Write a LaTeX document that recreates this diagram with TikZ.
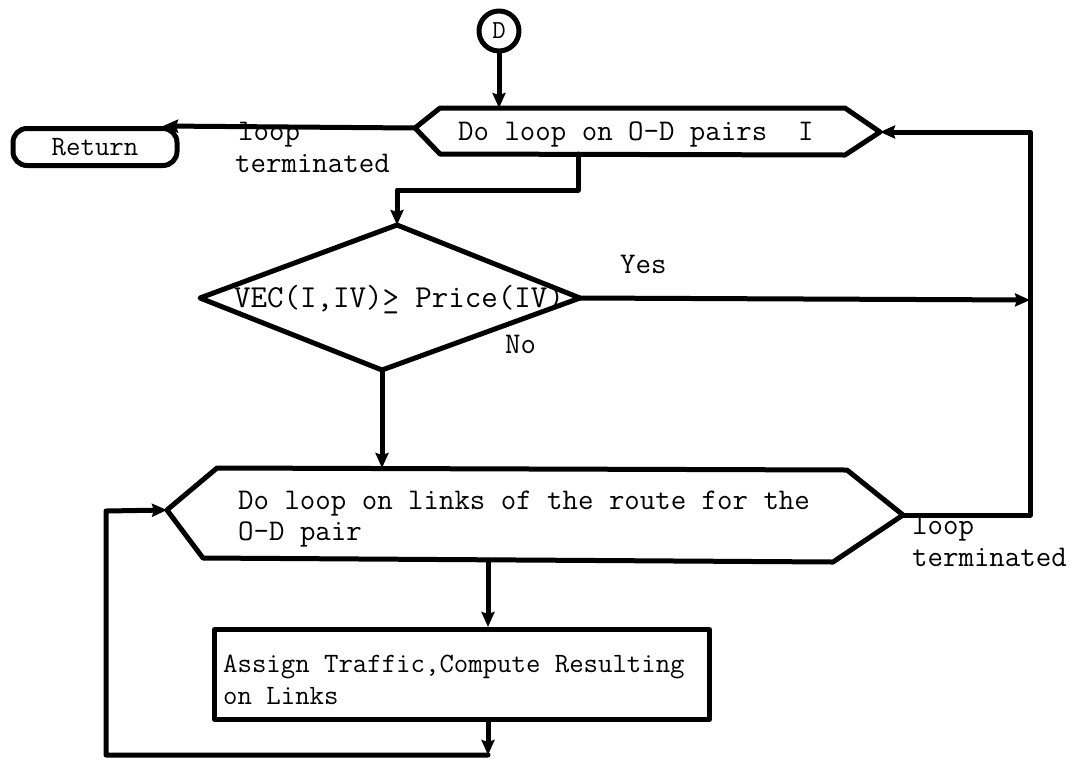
\documentclass[tikz,border=0pt]{standalone}
\usetikzlibrary{arrows.meta}
\begin{document}
\begin{tikzpicture}[x=1pt,y=-1pt,
  flow/.style={line width=5pt, line join=round, line cap=round},
  arr/.style={flow, -{Stealth[length=15pt,width=13pt,inset=2pt]}},
  txt/.style={font=\ttfamily\fontsize{30}{31}\selectfont, inner sep=0pt},
  condtxt/.style={font=\ttfamily\fontsize{32}{32}\selectfont, inner sep=0pt},
  smalltxt/.style={font=\ttfamily\fontsize{28}{32}\selectfont, inner sep=0pt}]
\useasboundingbox (0,0) rectangle (1078,761);

% connector D
\node[draw, flow, circle, minimum size=40pt, inner sep=0pt,
      font=\ttfamily\fontsize{26}{26}\selectfont] (D) at (499,31) {D};

% outer loop over O-D pairs
\coordinate (h1w)  at (415,128);
\coordinate (h1nw) at (440,108);
\coordinate (h1ne) at (845,108);
\coordinate (h1e)  at (880,132);
\coordinate (h1se) at (845,155);
\coordinate (h1sw) at (440,154);
\coordinate (h1s)  at (578,154);
\draw[flow] (h1w) -- (h1nw) -- (h1ne) -- (h1e) -- (h1se) -- (h1sw) -- cycle;
\node[txt, anchor=base west] (t1) at (458,140) {Do loop on O-D pairs\ \ I};

% return terminal
\node[draw, flow, rounded corners=14pt, minimum width=164pt, minimum height=37pt,
      inner sep=0pt, font=\ttfamily\fontsize{28}{28}\selectfont] (ret) at (95,147) {Return};
\coordinate (retin) at (163,126);

\node[txt, anchor=base west] (lt1) at (238,140) {loop};
\node[txt, anchor=base west] (lt2) at (235,172) {terminated};

% decision
\coordinate (dn) at (397,225);
\coordinate (dw) at (200,298);
\coordinate (de) at (580,298);
\coordinate (ds) at (382,370);
\draw[flow] (dn) -- (de) -- (ds) -- (dw) -- cycle;
\node[condtxt, anchor=base west] (cond) at (234,307) {VEC(I,IV)\rlap{\_}> Price(IV)};

\node[txt, anchor=base west] (yes) at (620,273) {Yes};
\node[txt, anchor=base west] (no) at (505,353) {No};

% inner loop over links
\coordinate (h2w)  at (167,510);
\coordinate (h2nw) at (217,468);
\coordinate (h2ne) at (847,470);
\coordinate (h2e)  at (903,515);
\coordinate (h2se) at (833,562);
\coordinate (h2sw) at (203,558);
\draw[flow] (h2w) -- (h2nw) -- (h2ne) -- (h2e) -- (h2se) -- (h2sw) -- cycle;
\node[txt, anchor=base west] (t2a) at (238,509) {Do loop on links of the route for the};
\node[txt, anchor=base west] (t2b) at (238,540) {O-D pair};

\node[txt, anchor=base west] (lb1) at (912,534) {loop};
\node[txt, anchor=base west] (lb2) at (912,566) {terminated};

% assignment step
\node[draw, flow, anchor=north west, minimum width=495pt, minimum height=90pt,
      inner sep=0pt] (asg) at (212,627) {};
\node[smalltxt, anchor=base west] (a1) at (223,672) {Assign Traffic,Compute Resulting};
\node[smalltxt, anchor=base west] (a2) at (223,704) {on Links};

% junction points
\coordinate (jr)  at (1030,300);
\coordinate (jtr) at (1030,132);
\coordinate (jbr) at (1030,515);
\coordinate (jb)  at (488,755);
\coordinate (jbl) at (106,755);
\coordinate (jtl) at (106,511);

% connectors
\draw[arr] (D.south) -- (D.south |- h1nw);
\draw[arr] (h1w) -- (retin);
\draw[arr] (h1s) -- (578,190) -- (397,190) -- (dn);
\draw[arr] (de) -- (jr);
\draw[arr] (ds) -- (ds |- h2nw);
\draw[arr] (h2e) -- (jbr) -- (jtr) -- (h1e);
\draw[arr] (488,560) -- (asg.north -| 488,0);
\draw[arr] (asg.south -| 488,0) -- (jb);
\draw[arr] (jb) -- (jbl) -- (jtl) -- (h2w);
\end{tikzpicture}
\end{document}
